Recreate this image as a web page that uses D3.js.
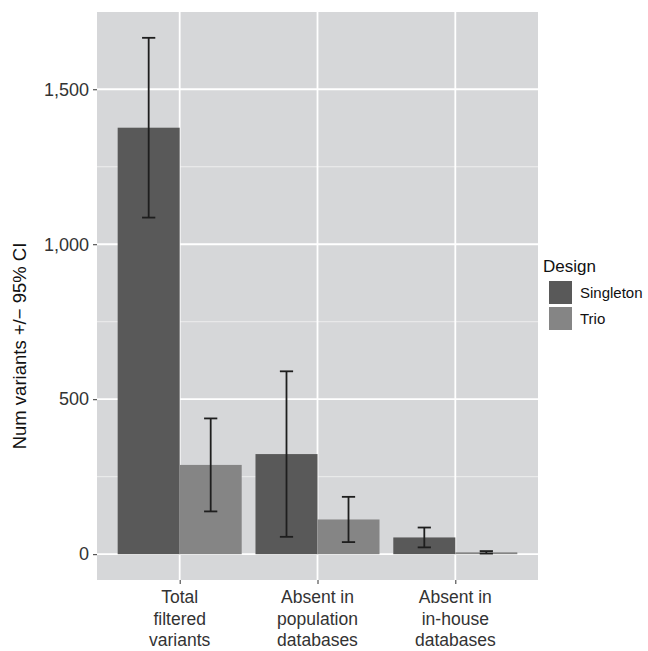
<!DOCTYPE html>
<html>
<head>
<meta charset="utf-8">
<script src="https://cdn.jsdelivr.net/npm/d3@7"></script>
<style>
  html, body { margin: 0; padding: 0; background: #ffffff; }
  svg { display: block; font-family: "Liberation Sans", Arial, Helvetica, sans-serif; }
</style>
</head>
<body>
<svg id="chart" width="648" height="651"></svg>
<script>
// Variant counts per filtering step, by sequencing design (mean and 95% CI)
const categories = ["Total filtered variants", "Absent in population databases", "Absent in in-house databases"];
const categoryLines = [["Total", "filtered", "variants"], ["Absent in", "population", "databases"], ["Absent in", "in-house", "databases"]];
const designs = ["Singleton", "Trio"];

const singletonMean = [1376, 323, 54];
const singletonLow  = [1086, 56, 22];
const singletonHigh = [1666, 590, 86];

const trioMean = [288, 112, 6];
const trioLow  = [138, 39, 2];
const trioHigh = [438, 185, 10];

const yTicks = [0, 500, 1000, 1500];
const yMinorTicks = [250, 750, 1250];

const rows = [];
categories.forEach((c, i) => {
  rows.push({ cat: c, design: "Singleton", mean: singletonMean[i], low: singletonLow[i], high: singletonHigh[i] });
  rows.push({ cat: c, design: "Trio", mean: trioMean[i], low: trioLow[i], high: trioHigh[i] });
});

const svg = d3.select("#chart");
const panel = { left: 97, right: 538, top: 12, bottom: 580 };

const colors = { Singleton: "#595959", Trio: "#858585" };

// Discrete x axis with ggplot-style 0.6 expansion on each side
const step = (panel.right - panel.left) / (categories.length - 1 + 1.2);
const x = d3.scalePoint().domain(categories)
  .range([panel.left + 0.6 * step, panel.right - 0.6 * step]);
const barW = step * 0.45;
const xd = d3.scaleBand().domain(designs).range([-barW, barW]).padding(0);

const yMax = d3.max(singletonHigh.concat(trioHigh));
const pad = yMax * 0.05;
const y = d3.scaleLinear().domain([-pad, yMax + pad]).range([panel.bottom, panel.top]);

// Panel background
svg.append("rect")
  .attr("x", panel.left).attr("y", panel.top)
  .attr("width", panel.right - panel.left).attr("height", panel.bottom - panel.top)
  .attr("fill", "#d6d7d9");

// Grid lines
svg.append("g").selectAll("line").data(yMinorTicks).join("line")
  .attr("x1", panel.left).attr("x2", panel.right)
  .attr("y1", d => y(d)).attr("y2", d => y(d))
  .attr("stroke", "#eeeeee").attr("stroke-width", 1);
svg.append("g").selectAll("line").data(yTicks).join("line")
  .attr("x1", panel.left).attr("x2", panel.right)
  .attr("y1", d => y(d)).attr("y2", d => y(d))
  .attr("stroke", "#ffffff").attr("stroke-width", 1.8);
svg.append("g").selectAll("line").data(categories).join("line")
  .attr("x1", d => x(d)).attr("x2", d => x(d))
  .attr("y1", panel.top).attr("y2", panel.bottom)
  .attr("stroke", "#ffffff").attr("stroke-width", 1.8);

// Bars
svg.append("g").selectAll("rect").data(rows).join("rect")
  .attr("x", d => x(d.cat) + xd(d.design))
  .attr("width", xd.bandwidth())
  .attr("y", d => y(d.mean))
  .attr("height", d => y(0) - y(d.mean))
  .attr("fill", d => colors[d.design]);

// Error bars
const cap = step * 0.048;
const eb = svg.append("g").attr("stroke", "#1e1e1e").attr("stroke-width", 1.8).attr("fill", "none");
rows.forEach(d => {
  const cx = x(d.cat) + xd(d.design) + xd.bandwidth() / 2;
  eb.append("line").attr("x1", cx).attr("x2", cx).attr("y1", y(d.low)).attr("y2", y(d.high));
  eb.append("line").attr("x1", cx - cap).attr("x2", cx + cap).attr("y1", y(d.low)).attr("y2", y(d.low));
  eb.append("line").attr("x1", cx - cap).attr("x2", cx + cap).attr("y1", y(d.high)).attr("y2", y(d.high));
});

// Y axis
const yAxis = svg.append("g")
  .attr("transform", `translate(${panel.left},0)`)
  .call(d3.axisLeft(y).tickValues(yTicks).tickFormat(d3.format(",")).tickSize(4).tickPadding(4));
yAxis.select(".domain").remove();
yAxis.selectAll(".tick line").attr("stroke", "#333333");
yAxis.selectAll(".tick text").attr("fill", "#333333").style("font-size", "18px")
  .style("font-family", "'Liberation Sans', Arial, sans-serif");

// X axis with multi-line labels
const xAxis = svg.append("g")
  .attr("transform", `translate(0,${panel.bottom})`)
  .call(d3.axisBottom(x).tickSize(4).tickFormat(""));
xAxis.select(".domain").remove();
xAxis.selectAll(".tick line").attr("stroke", "#333333");
categories.forEach((c, i) => {
  const t = svg.append("text")
    .attr("x", x(c)).attr("y", 603)
    .attr("text-anchor", "middle")
    .attr("fill", "#333333")
    .style("font-size", "17.5px");
  categoryLines[i].forEach((line, j) => {
    t.append("tspan").attr("x", x(c)).attr("dy", j === 0 ? 0 : 21.5).text(line);
  });
});

// Y axis title
svg.append("text")
  .attr("transform", `translate(26,346) rotate(-90)`)
  .attr("text-anchor", "middle")
  .attr("fill", "#111111")
  .style("font-size", "18.5px")
  .text("Num variants +/\u2212 95% CI");

// Legend
const legend = svg.append("g").attr("transform", "translate(543,0)");
legend.append("text")
  .attr("x", 0).attr("y", 272)
  .attr("fill", "#111111")
  .style("font-size", "17px")
  .text("Design");
designs.forEach((dsg, i) => {
  const ky = 281 + i * 26;
  legend.append("rect")
    .attr("x", 6).attr("y", ky).attr("width", 23).attr("height", 23)
    .attr("fill", colors[dsg]);
  legend.append("text")
    .attr("x", 37).attr("y", ky + 11.5).attr("dy", "0.35em")
    .attr("fill", "#111111")
    .style("font-size", "15px")
    .text(dsg);
});
</script>
</body>
</html>
